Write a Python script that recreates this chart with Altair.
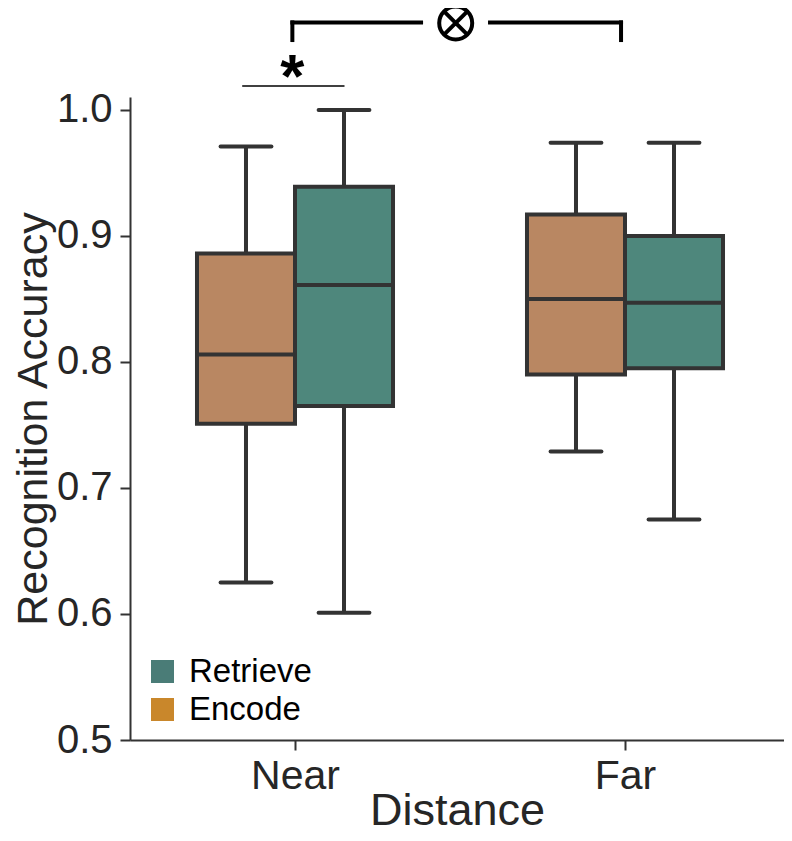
import altair as alt
import pandas as pd

# ---------------- data ----------------
distances = ["Near", "Far"]
conditions = ["Encode", "Retrieve"]

encode_low = [0.625, 0.729]
encode_q1 = [0.751, 0.790]
encode_med = [0.806, 0.850]
encode_q3 = [0.886, 0.917]
encode_high = [0.971, 0.974]

retrieve_low = [0.601, 0.675]
retrieve_q1 = [0.765, 0.795]
retrieve_med = [0.861, 0.847]
retrieve_q3 = [0.939, 0.900]
retrieve_high = [1.000, 0.974]

y_ticks = [0.5, 0.6, 0.7, 0.8, 0.9, 1.0]
legend_order = ["Retrieve", "Encode"]

box_fill = ["#b98762", "#4e877c"]        # Encode, Retrieve
legend_fill = ["#4a7c77", "#c9872b"]     # Retrieve, Encode

stats = {
    "Encode": (encode_low, encode_q1, encode_med, encode_q3, encode_high),
    "Retrieve": (retrieve_low, retrieve_q1, retrieve_med, retrieve_q3, retrieve_high),
}
rows = []
for i, d in enumerate(distances):
    for j, c in enumerate(conditions):
        lo, q1, med, q3, hi = (s[i] for s in stats[c])
        rows.append(dict(Distance=d, Condition=c, i=i, j=j,
                         low=lo, q1=q1, med=med, q3=q3, high=hi))
df = pd.DataFrame(rows)

# annotations (data units)
bracket = pd.DataFrame([
    dict(x=-0.008, x2=0.382, y=1.0695, y2=1.0695),
    dict(x=0.591, x2=0.988, y=1.0695, y2=1.0695),
    dict(x=-0.008, x2=-0.008, y=1.0555, y2=1.0695),
    dict(x=0.988, x2=0.988, y=1.0555, y2=1.0695),
])
star_line = pd.DataFrame([dict(x=-0.16, x2=0.15, y=1.019, y2=1.019)])
star = pd.DataFrame([dict(x=-0.008, y=1.0255, t="*")])
otimes = pd.DataFrame([dict(x=0.487, y=1.069)])

BW = 0.297   # box width as fraction of category step
CAP = 0.077  # half cap width

FONT = "Liberation Sans"
DARK = "#333333"

PX_PER_UNIT = 330.0
PLOT_W = 654
xscale = alt.Scale(domain=[-0.5, -0.5 + PLOT_W / PX_PER_UNIT], nice=False, zero=False)
yscale = alt.Scale(domain=[0.5, 1.0103], nice=False, zero=False)

label_expr = "[" + ",".join(f"'{d}'" for d in distances) + "][datum.value]"

x_axis = alt.Axis(values=list(range(len(distances))), labelExpr=label_expr,
                  title="Distance", titleFontSize=45, titleFontWeight="normal",
                  labelFontSize=41, tickSize=10, tickWidth=2, domainWidth=2,
                  domainColor=DARK, tickColor=DARK, labelColor="#262626",
                  titleColor="#262626", labelPadding=6, grid=False,
                  titleY=84, titleBaseline="alphabetic", labelFont=FONT, titleFont=FONT)
y_axis = alt.Axis(values=y_ticks, format=".1f", title="Recognition Accuracy",
                  titleFontSize=43, titleFontWeight="normal", labelFontSize=40,
                  tickSize=10, tickWidth=2, domainWidth=2, domainColor=DARK,
                  tickColor=DARK, labelColor="#262626", titleColor="#262626",
                  labelPadding=8, grid=False, titleX=-97, titleBaseline="middle",
                  titleAlign="center", labelFont=FONT, titleFont=FONT)

base = alt.Chart(df).transform_calculate(
    xc=f"datum.i + (datum.j - 0.5) * {BW}",
).transform_calculate(
    xl=f"datum.xc - {BW/2}",
    xr=f"datum.xc + {BW/2}",
    cl=f"datum.xc - {CAP}",
    cr=f"datum.xc + {CAP}",
)

whisker = base.mark_rule(color=DARK, strokeWidth=4).encode(
    x=alt.X("xc:Q", scale=xscale, axis=x_axis),
    y=alt.Y("low:Q", scale=yscale, axis=y_axis),
    y2="high:Q",
)
cap_hi = base.mark_rule(color=DARK, strokeWidth=4, strokeCap="round").encode(
    x="cl:Q", x2="cr:Q", y="high:Q")
cap_lo = base.mark_rule(color=DARK, strokeWidth=4, strokeCap="round").encode(
    x="cl:Q", x2="cr:Q", y="low:Q")
box = base.mark_rect(stroke=DARK, strokeWidth=4).encode(
    x="xl:Q", x2="xr:Q", y="q1:Q", y2="q3:Q",
    fill=alt.Fill("Condition:N", scale=alt.Scale(domain=conditions, range=box_fill),
                  legend=None),
)
median = base.mark_rule(color=DARK, strokeWidth=4).encode(
    x="xl:Q", x2="xr:Q", y="med:Q")

legend_layer = base.mark_square(opacity=0, size=10).encode(
    x="xc:Q", y="med:Q",
    color=alt.Color("Condition:N",
                    scale=alt.Scale(domain=legend_order, range=legend_fill),
                    legend=alt.Legend(title=None, orient="none", legendX=16, legendY=558,
                                      symbolType="square", symbolSize=529,
                                      symbolOpacity=1, symbolStrokeWidth=0,
                                      labelFontSize=33, labelFont=FONT,
                                      labelColor="black", rowPadding=4,
                                      labelOffset=10, padding=0)),
)

bracket_layer = alt.Chart(bracket).mark_rule(color="black", strokeWidth=4,
                                             strokeCap="square").encode(
    x="x:Q", x2="x2:Q", y="y:Q", y2="y2:Q")
star_line_layer = alt.Chart(star_line).mark_rule(color="black", strokeWidth=1.5).encode(
    x="x:Q", x2="x2:Q", y="y:Q", y2="y2:Q")
star_layer = alt.Chart(star).mark_text(fontSize=62, fontWeight="bold", font=FONT,
                                       baseline="middle", color="black").encode(
    x="x:Q", y="y:Q", text="t:N")
circ = alt.Chart(otimes).mark_point(shape="circle", size=1089, filled=False,
                                    stroke="black", strokeWidth=4, opacity=1).encode(
    x="x:Q", y="y:Q")
cross = alt.Chart(otimes).mark_point(
    shape="M-0.707,-0.707L0.707,0.707M-0.707,0.707L0.707,-0.707",
    size=1089, filled=False, stroke="black", strokeWidth=4, opacity=1).encode(
    x="x:Q", y="y:Q")

chart = alt.layer(
    whisker, cap_hi, cap_lo, box, median, legend_layer,
    bracket_layer, star_line_layer, star_layer, circ, cross,
).properties(
    width=PLOT_W, height=643,
    autosize=alt.AutoSizeParams(type="none"),
    padding={"left": 122, "top": 89, "right": 0, "bottom": 93},
).configure(font=FONT).configure_view(strokeWidth=0, stroke=None)

chart.save("out.html", embed_options={"renderer": "svg", "actions": False})
